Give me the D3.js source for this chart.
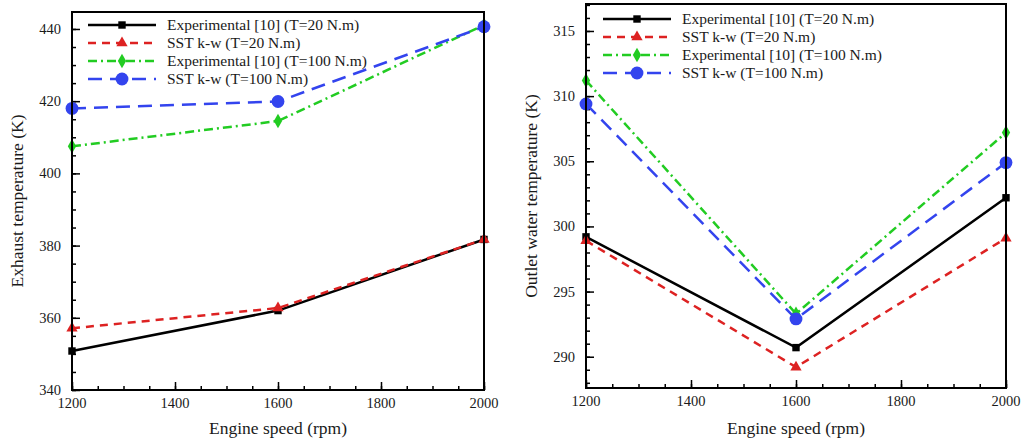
<!DOCTYPE html>
<html>
<head>
  <meta charset="utf-8">
  <script src="https://d3js.org/d3.v7.min.js"></script>
  <style>
    body { margin: 0; background: #fff; }
    text { font-family: "Liberation Serif", "Times New Roman", serif; fill: #1a1a1a; }
    .frame { fill: none; stroke: #000; stroke-width: 2; }
  </style>
</head>
<body>
<svg id="chart" width="1023" height="441"></svg>
<script>
  // engine speed (rpm)
  const speeds = [1200, 1600, 2000];

  // exhaust temperature (K)
  const exhExp20 = [350.8, 362.0, 381.7];
  const exhSst20 = [357.1, 362.7, 381.7];
  const exhExp100 = [407.5, 414.5, 441.1];
  const exhSst100 = [418.0, 419.9, 440.6];

  // outlet water temperature (K)
  const watExp20 = [299.2, 290.7, 302.2];
  const watSst20 = [298.9, 289.2, 299.1];
  const watExp100 = [311.2, 293.3, 307.2];
  const watSst100 = [309.4, 292.9, 304.9];

  const seriesNames = [
    "Experimental [10] (T=20 N.m)",
    "SST k-w (T=20 N.m)",
    "Experimental [10] (T=100 N.m)",
    "SST k-w (T=100 N.m)"
  ];

  const styles = [
    { color: "#000000", dash: null, marker: d3.symbolSquare, size: 55 },
    { color: "#dd2222", dash: "8,6", marker: d3.symbolTriangle, size: 55 },
    { color: "#22cc22", dash: "9,4,2,4", marker: d3.symbolDiamond, size: 60 },
    { color: "#3344ee", dash: "14,8", marker: d3.symbolCircle, size: 130 }
  ];

  const svg = d3.select("#chart");

  function panel(opt) {
    const x = d3.scaleLinear().domain([1200, 2000]).range([opt.left, opt.right]);
    const y = d3.scaleLinear().domain(opt.yDomain).range([opt.bottom, opt.top]);
    const g = svg.append("g");

    // inward ticks
    const xAxis = d3.axisTop(x).tickValues(d3.range(1200, 2001, 200)).tickSize(8).tickFormat("");
    const xMinor = d3.axisTop(x).tickValues(d3.range(1200, 2001, 50)).tickSize(4).tickFormat("");
    g.append("g").attr("transform", `translate(0,${opt.bottom})`).call(xMinor);
    g.append("g").attr("transform", `translate(0,${opt.bottom})`).call(xAxis);

    const yAxis = d3.axisRight(y).tickValues(opt.yTicks).tickSize(8).tickFormat("");
    const yMinor = d3.axisRight(y).tickValues(opt.yMinor).tickSize(4).tickFormat("");
    g.append("g").attr("transform", `translate(${opt.left},0)`).call(yMinor);
    g.append("g").attr("transform", `translate(${opt.left},0)`).call(yAxis);
    g.selectAll(".domain").remove();
    g.selectAll(".tick line").attr("stroke", "#000").attr("stroke-width", 1.5);

    // tick labels
    g.selectAll(".xlab").data(d3.range(1200, 2001, 200)).enter().append("text")
      .attr("x", d => x(d)).attr("y", opt.bottom + 18)
      .attr("text-anchor", "middle").attr("font-size", 14.5).text(d => d);
    g.selectAll(".ylab").data(opt.yTicks).enter().append("text")
      .attr("x", opt.left - 11).attr("y", d => y(d) + 5)
      .attr("text-anchor", "end").attr("font-size", 14.5).text(d => d);

    // axis titles
    g.append("text").attr("x", (opt.left + opt.right) / 2).attr("y", 434)
      .attr("text-anchor", "middle").attr("font-size", 17.5).text("Engine speed (rpm)");
    g.append("text")
      .attr("transform", `translate(${opt.yLabelX},${(opt.top + opt.bottom) / 2}) rotate(-90)`)
      .attr("text-anchor", "middle").attr("font-size", 17.5).text(opt.yLabel);

    // series
    const line = d3.line().x((d, i) => x(speeds[i])).y(d => y(d));
    opt.series.forEach((vals, k) => {
      const s = styles[k];
      g.append("path").datum(vals)
        .attr("fill", "none").attr("stroke", s.color).attr("stroke-width", 2.5)
        .attr("stroke-dasharray", s.dash).attr("d", line);
      g.selectAll(null).data(vals).enter().append("path")
        .attr("transform", (d, i) => `translate(${x(speeds[i])},${y(d)})`)
        .attr("d", d3.symbol().type(s.marker).size(s.size))
        .attr("fill", s.color);
    });

    // frame
    g.append("rect").attr("class", "frame")
      .attr("x", opt.left).attr("y", opt.top)
      .attr("width", opt.right - opt.left).attr("height", opt.bottom - opt.top);

    // legend
    seriesNames.forEach((name, k) => {
      const s = styles[k];
      const ly = opt.legendY + k * 18;
      const lx = opt.legendX;
      g.append("line").attr("x1", lx).attr("x2", lx + 68).attr("y1", ly).attr("y2", ly)
        .attr("stroke", s.color).attr("stroke-width", 2.5).attr("stroke-dasharray", s.dash);
      g.append("path").attr("transform", `translate(${lx + 34},${ly})`)
        .attr("d", d3.symbol().type(s.marker).size(s.size)).attr("fill", s.color);
      g.append("text").attr("x", lx + 79).attr("y", ly + 5)
        .attr("font-size", 15.5).text(name);
    });
  }

  panel({
    left: 72, right: 484, top: 12, bottom: 390,
    yDomain: [340, 444.7],
    yTicks: d3.range(340, 441, 20),
    yMinor: d3.range(340, 445, 5),
    yLabel: "Exhaust temperature (K)",
    yLabelX: 23,
    legendX: 88, legendY: 25,
    series: [exhExp20, exhSst20, exhExp100, exhSst100]
  });

  panel({
    left: 586, right: 1006, top: 4, bottom: 388,
    yDomain: [287.6, 317.07],
    yTicks: d3.range(290, 316, 5),
    yMinor: d3.range(288, 318, 1),
    yLabel: "Outlet water temperature (K)",
    yLabelX: 537,
    legendX: 603, legendY: 19,
    series: [watExp20, watSst20, watExp100, watSst100]
  });
</script>
</body>
</html>
